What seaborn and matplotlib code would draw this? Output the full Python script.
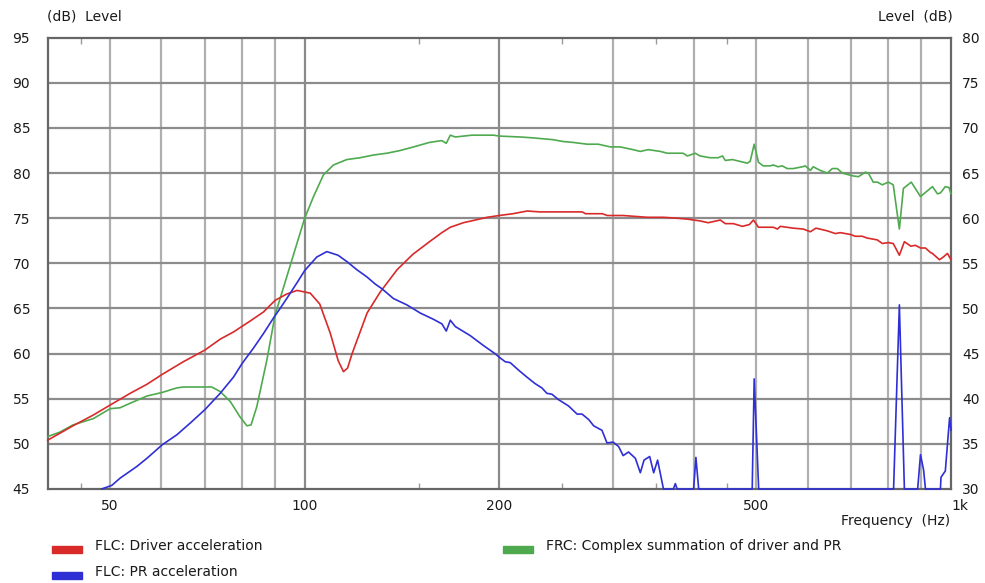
import matplotlib
matplotlib.use("Agg")
import numpy as np
import pandas as pd
import matplotlib.pyplot as plt
import seaborn as sns
from matplotlib.ticker import FixedLocator, FixedFormatter, NullFormatter
from matplotlib.patches import Rectangle

# ---------------- data ----------------
driver_freq = [40, 43.8, 47.1, 50, 53.7, 57, 60.2, 64.9, 70.1, 74, 77.6, 82.3, 86.3, 90, 93.8, 97.3,
               102, 105.5, 109.5, 112.7, 114.8, 116.5, 118.4, 124.9, 130.8, 139, 147, 156, 163, 168,
               176, 191.6, 200, 210, 221, 231, 268.9, 271.8, 288.7, 293.9, 311, 339, 358.8, 377, 391,
               409, 421, 439.6, 447.5, 460.5, 475.6, 487.6, 494.7, 503.6, 531, 538.8, 544.5, 570,
               590.8, 606, 618, 643.6, 662.4, 674, 698.9, 711, 729, 742, 769, 783, 800, 814, 832,
               847, 866.8, 881, 897, 913, 929.6, 936, 959.6, 973, 987.5, 1000]
driver_level = [50.4, 52.0, 53.2, 54.3, 55.6, 56.6, 57.7, 59.1, 60.4, 61.6, 62.4, 63.6, 64.6, 65.9, 66.6, 67.0,
                66.7, 65.5, 62.3, 59.2, 58.0, 58.4, 60.0, 64.5, 66.8, 69.3, 71.0, 72.4, 73.4, 74.0,
                74.5, 75.1, 75.3, 75.5, 75.8, 75.7, 75.7, 75.5, 75.5, 75.3, 75.3, 75.1, 75.1, 75.0, 74.9,
                74.7, 74.5, 74.8, 74.4, 74.4, 74.1, 74.3, 74.8, 74.0, 74.0, 73.8, 74.1, 73.9,
                73.8, 73.5, 73.9, 73.6, 73.3, 73.4, 73.2, 73.0, 73.0, 72.8, 72.6, 72.2, 72.3, 72.2, 70.9,
                72.4, 71.9, 72.0, 71.7, 71.7, 71.2, 71.1, 70.4, 70.7, 71.1, 70.4]

pr_freq = [48.5, 50.3, 51.8, 55, 57, 60.2, 63.4, 66.5, 70.1, 74, 77.6, 80, 83.3, 86.3, 89.4, 91.6, 93.8,
           97.2, 100, 104.4, 108.2, 112.6, 116.2, 120.4, 124.8, 128.6, 131.6, 137.2, 143.9, 150.9,
           158.2, 163, 165.6, 168, 171, 180.3, 189, 192.5, 197, 200, 204.3, 208, 214, 220.7, 227,
           232.8, 237, 241.3, 247, 256, 263.9, 268.6, 275, 280, 288.4, 293.6, 300, 306, 311, 317,
           324.8, 330.6, 335, 341.8, 346.7, 351.6, 359, 372, 374.5, 377, 399.7, 403, 407, 492.5,
           496, 504, 815, 832, 847, 888, 897, 907, 913, 963, 965, 980, 995, 1000]
pr_level = [45.0, 45.4, 46.2, 47.5, 48.4, 49.9, 51.0, 52.3, 53.8, 55.6, 57.4, 58.9, 60.6, 62.2, 63.9, 65.0, 66.1,
            67.8, 69.2, 70.7, 71.3, 70.9, 70.2, 69.3, 68.5, 67.7, 67.2, 66.1, 65.4, 64.5,
            63.8, 63.3, 62.5, 63.7, 63.0, 62.0, 60.9, 60.5, 60.0, 59.6, 59.1, 59.0, 58.2, 57.4, 56.7,
            56.2, 55.6, 55.5, 54.9, 54.2, 53.3, 53.3, 52.7, 52.0, 51.5, 50.1, 50.2, 49.7, 48.7, 49.1,
            48.4, 46.8, 48.2, 48.6, 46.8, 48.2, 45.0, 45.0, 45.6, 45.0, 45.0, 48.5, 45.0, 45.0,
            57.2, 45.0, 45.0, 65.4, 45.0, 45.0, 48.8, 47.1, 45.0, 45.0, 46.3, 47.0, 52.9, 51.5]

sum_freq = [40, 41.8, 43.8, 47.1, 50, 51.8, 53.7, 57, 60.2, 63.4, 64.9, 71.8, 74, 76.7, 79.4, 81.4, 82.6,
            84.3, 87.4, 90, 93.8, 96.6, 100, 103.2, 106.9, 110.8, 116.2, 121.8, 127.7, 134, 140.5,
            147.4, 156, 163, 165.6, 168, 171, 181.4, 196, 200, 215.5, 225.7, 242.4, 251, 260, 273.7,
            284.6, 297, 307.8, 322, 330.6, 340, 355, 364, 385, 391, 402, 409, 424, 436, 443, 447.5,
            458.8, 484, 489, 496, 503.6, 512, 525, 531, 540, 548, 558, 570, 589, 595, 606, 612, 627.6,
            643.6, 655, 667, 679, 704, 719, 737, 745, 758, 769, 783, 800, 814, 832, 844, 868, 897,
            936, 953, 963, 980, 993, 1000]
sum_level = [50.8, 51.3, 52.1, 52.8, 53.9, 54.0, 54.5, 55.3, 55.7, 56.2, 56.3, 56.3, 55.8, 54.7, 53.0, 52.0, 52.1,
             54.1, 59.3, 64.3, 68.5, 71.5, 75.0, 77.4, 79.8, 80.9, 81.5, 81.7, 82.0, 82.2, 82.5,
             82.9, 83.4, 83.6, 83.3, 84.2, 84.0, 84.2, 84.2, 84.1, 84.0, 83.9, 83.7, 83.5, 83.4, 83.2,
             83.2, 82.9, 82.9, 82.6, 82.4, 82.6, 82.4, 82.2, 82.2, 81.9, 82.2, 81.9, 81.7, 81.7, 81.9, 81.4,
             81.5, 81.1, 81.3, 83.2, 81.2, 80.8, 80.8, 80.9, 80.7, 80.8, 80.5, 80.5, 80.7, 80.8, 80.3, 80.7, 80.3,
             80.0, 80.5, 80.5, 80.0, 79.7, 79.6, 80.1, 80.0, 79.0, 79.0, 78.7, 79.0, 78.7, 73.8, 78.3, 79.0, 77.4,
             78.5, 77.7, 77.8, 78.5, 78.4, 77.7]

x_tick_vals = [50, 100, 200, 500, 1000]
x_tick_labels = ["50", "100", "200", "500", "1k"]
left_ticks = [45, 50, 55, 60, 65, 70, 75, 80, 85, 90, 95]
right_ticks = [30, 35, 40, 45, 50, 55, 60, 65, 70, 75, 80]

series_names = ["FLC: Driver acceleration", "FLC: PR acceleration",
                "FRC: Complex summation of driver and PR"]

# ---------------- style ----------------
RED, BLUE, GREEN = "#d92a2a", "#2f2fd6", "#4faa4f"
TXT = "#1a1a1a"

sns.set_style("white")
plt.rcParams["font.family"] = ["DejaVu Sans"]

fig = plt.figure(figsize=(9.85, 5.83), dpi=100)
ax = fig.add_axes([47.5 / 985, 1 - 489 / 583, (951 - 47.5) / 985, (489 - 37.7) / 583])
ax.set_xscale("log")
ax.set_xlim(40, 1000)
ax.set_ylim(45, 95)

# grid
for f in [50, 60, 70, 80, 90, 300, 400, 500, 600, 700, 800, 900]:
    ax.axvline(f, color="#afafaf", lw=1.6, zorder=0.5)
for f in [100, 200]:
    ax.axvline(f, color="#8a8a8a", lw=1.6, zorder=0.6)
for yv in left_ticks[1:-1]:
    ax.axhline(yv, color="#8c8c8c", lw=1.6, zorder=0.6)

df_d = pd.DataFrame({"freq": driver_freq, "level": driver_level})
df_p = pd.DataFrame({"freq": pr_freq, "level": pr_level})
df_s = pd.DataFrame({"freq": sum_freq, "level": sum_level})

for df, c in [(df_s, GREEN), (df_d, RED), (df_p, BLUE)]:
    sns.lineplot(data=df, x="freq", y="level", color=c, lw=1.2, estimator=None,
                 sort=False, ax=ax, zorder=3)
for ln in ax.get_lines():
    if ln.get_color() in (RED, BLUE, GREEN):
        ln.set_clip_on(False)

ax.set_xlabel("")
ax.set_ylabel("")

for s in ax.spines.values():
    s.set_color("#666666")
    s.set_linewidth(1.6)
    s.set_zorder(2.5)

ax.xaxis.set_major_locator(FixedLocator(x_tick_vals))
ax.xaxis.set_major_formatter(FixedFormatter(x_tick_labels))
ax.xaxis.set_minor_locator(FixedLocator([45, 150, 250, 350, 450]))
ax.xaxis.set_minor_formatter(NullFormatter())
ax.tick_params(axis="x", which="major", length=0, pad=7, labelsize=10, labelcolor=TXT)
ax.tick_params(axis="x", which="minor", direction="in", length=4, width=1,
               color="#9a9a9a", top=True, bottom=True)
for lab in ax.get_xticklabels():
    if lab.get_text() == "1k":
        lab.set_horizontalalignment("left")

ax.set_yticks(left_ticks)
ax.tick_params(axis="y", which="both", length=0, pad=12.5, labelsize=10, labelcolor=TXT)

ax2 = ax.twinx()
ax2.set_ylim(30, 80)
ax2.set_yticks(right_ticks)
ax2.tick_params(axis="y", length=0, pad=8, labelsize=10, labelcolor=TXT)
for s in ax2.spines.values():
    s.set_visible(False)

# axis titles
fig.text(47 / 985, 1 - 16 / 583, "(dB)  Level", ha="left", va="center", fontsize=10, color=TXT)
fig.text(953 / 985, 1 - 16 / 583, "Level  (dB)", ha="right", va="center", fontsize=10, color=TXT)
fig.text(950 / 985, 1 - 521 / 583, "Frequency  (Hz)", ha="right", va="center", fontsize=10, color=TXT)

# legend
legend_items = [(series_names[0], RED, 52, 549), (series_names[1], BLUE, 52, 575),
                (series_names[2], GREEN, 503, 549)]
for name, c, px, py in legend_items:
    fig.patches.append(Rectangle((px / 985, 1 - (py + 3.5) / 583), 30 / 985, 7 / 583,
                                 transform=fig.transFigure, color=c, zorder=5))
    fig.text((px + 43) / 985, 1 - (py - 3) / 583, name, ha="left", va="center",
             fontsize=10, color=TXT)

fig.savefig("out.png", dpi=100)
